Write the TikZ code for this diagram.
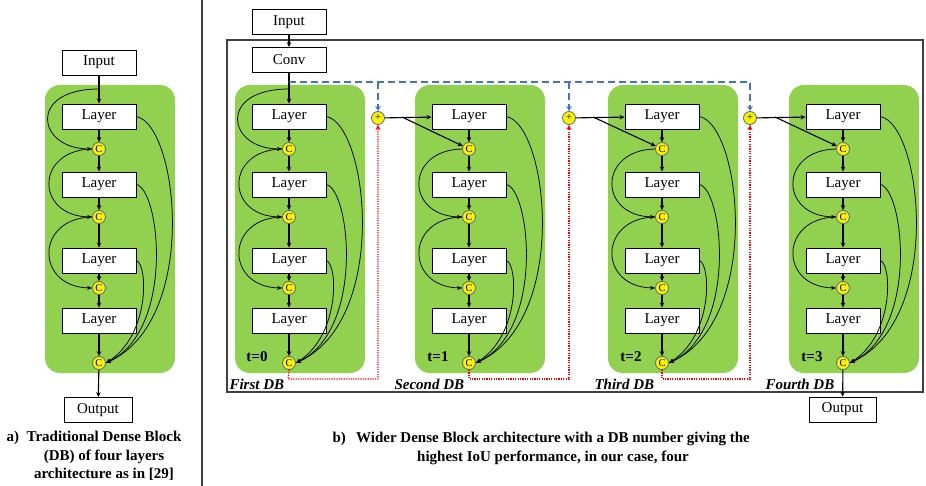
\documentclass[tikz,border=0pt]{standalone}
\usepackage{fontspec}
\setmainfont{Liberation Serif}
\usetikzlibrary{arrows.meta}
\definecolor{dbgreen}{HTML}{92D050}
\definecolor{cedge}{HTML}{4A6A8F}
\definecolor{dashblue}{HTML}{4472C4}
\definecolor{framegray}{HTML}{404040}
\tikzset{
  boxnode/.style={draw, fill=white, line width=0.9pt, minimum width=74pt, minimum height=25pt, inner sep=0pt, font=\fontsize{15}{16}\selectfont},
  cnode/.style={circle, draw=cedge, fill=yellow, line width=0.8pt, minimum size=13pt, inner sep=0pt, font=\fontsize{10.5}{10.5}\selectfont},
  arr/.style={line width=1.1pt, -{Stealth[length=5pt,width=4.5pt]}},
  curv/.style={line width=0.75pt, -{Stealth[length=5pt,width=4pt]}},
  bluedash/.style={draw=dashblue, line width=1.5pt, dash pattern=on 7pt off 4pt, -{Stealth[length=5pt,width=5.5pt,open]}},
  reddot/.style={draw=red, line width=1.2pt, dash pattern=on 1.2pt off 1.2pt, -{Stealth[length=5pt,width=5pt,open]}},
  tlabel/.style={font=\fontsize{15}{15}\selectfont\bfseries},
  dblabel/.style={font=\fontsize{15}{15}\selectfont\bfseries\itshape, anchor=west},
  caption/.style={font=\fontsize{15}{18.5}\selectfont\bfseries, align=center}
}
\newcommand{\DBlock}[2]{%
  \fill[dbgreen, rounded corners=15pt] (#2-54,85) rectangle (#2+76,373);
  \node[boxnode] (#1L1) at (#2,116.5) {Layer};
  \node[boxnode] (#1L2) at (#2,184.5) {Layer};
  \node[boxnode] (#1L3) at (#2,260.5) {Layer};
  \node[boxnode] (#1L4) at (#2,320.5) {Layer};
  \node[cnode] (#1C1) at (#2,149) {C};
  \node[cnode] (#1C2) at (#2,217) {C};
  \node[cnode] (#1C3) at (#2,288) {C};
  \node[cnode] (#1C4) at (#2,363) {C};
  \draw[arr] (#1L1) -- (#1C1);
  \draw[arr] (#1C1) -- (#1L2);
  \draw[arr] (#1L2) -- (#1C2);
  \draw[arr] (#1C2) -- (#1L3);
  \draw[arr] (#1L3) -- (#1C3);
  \draw[arr] (#1C3) -- (#1L4);
  \draw[arr] (#1L4) -- (#1C4);
  \draw[curv] (#1C1.west) .. controls (#2-64,150) and (#2-64,216) .. (#1C2.west);
  \draw[curv] (#1C2.west) .. controls (#2-64,218) and (#2-64,287) .. (#1C3.west);
  \draw[curv] (#1L1.east) .. controls (#2+79,125) and (#2+101,320) .. (#1C4.east);
  \draw[curv] (#1L2.east) .. controls (#2+61,190) and (#2+76,330) .. (#1C4.east);
  \draw[curv] (#1L3.east) .. controls (#2+49,265) and (#2+51,335) .. (#1C4.east);
}
\begin{document}
\begin{tikzpicture}[x=1pt,y=-1pt]
\useasboundingbox (0,0) rectangle (926,486);
\fill[white] (0,0) rectangle (926,486);

% divider
\draw[framegray, line width=1.5pt] (202,0) -- (202,486);

% ---------------- panel a ----------------
\node[boxnode] (inA) at (99,62.5) {Input};
\DBlock{a}{99}
\coordinate (atop) at (99,89);
\draw[arr] (inA) -- (aL1);
\draw[curv] (atop) .. controls (27,89) and (37,149) .. (aC1.west);
\node[boxnode, minimum width=68pt] (outA) at (98,410) {Output};
\draw[arr] (aC4) -- (outA);
\node[caption, anchor=west] (capAlab) at (3,438) {a)};
\node[caption, anchor=north] (capA) at (104,428) {Traditional Dense Block\\(DB) of four layers\\architecture as in [29]};

% ---------------- panel b ----------------
\draw[framegray, line width=1.3pt] (227,40) rectangle (923,392);
\node[boxnode] (inB) at (289,22) {Input};
\node[boxnode] (conv) at (289,60) {Conv};
\draw[arr] (inB) -- (conv);

\DBlock{b}{289}
\DBlock{c}{469}
\DBlock{d}{662}
\DBlock{e}{843}

\coordinate (btop) at (289,89);
\coordinate (bj) at (289,82);
\draw[arr] (conv) -- (bL1);
\draw[curv] (btop) .. controls (217,89) and (227,149) .. (bC1.west);

% plus nodes
\node[cnode] (p1) at (378,118) {+};
\node[cnode] (p2) at (569,118) {+};
\node[cnode] (p3) at (750,118) {+};

% blue dashed skip from conv
\draw[bluedash] (bj) -- (p3 |- bj) -- (p3.north);
\draw[bluedash] (p1 |- bj) -- (p1.north);
\draw[bluedash] (p2 |- bj) -- (p2.north);

% red dotted from block outputs
\draw[reddot] (bC4.south) -- (288,379) -| (p1.south);
\draw[reddot] (cC4.south) -- (469,379) -| (p2.south);
\draw[reddot] (dC4.south) -- (662,379) -| (p3.south);

% plus to next block
\coordinate (s1) at (402,117);
\coordinate (s2) at (593,117);
\coordinate (s3) at (775,117);
\draw[arr] (p1) -- (cL1);
\draw[arr] (s1) -- (cC1);
\draw[arr] (p2) -- (dL1);
\draw[arr] (s2) -- (dC1);
\draw[arr] (p3) -- (eL1);
\draw[arr] (s3) -- (eC1);

% output
\node[boxnode, minimum width=67pt] (outB) at (842.5,409.5) {Output};
\draw[arr] (eC4) -- (outB);

% labels
\node[tlabel] (t0) at (257,357) {t=0};
\node[tlabel] (t1) at (438,357) {t=1};
\node[tlabel] (t2) at (631,357) {t=2};
\node[tlabel] (t3) at (812,357) {t=3};
\node[dblabel] (db1) at (226,384) {First DB};
\node[dblabel] (db2) at (391,384) {Second DB};
\node[dblabel] (db3) at (591,384) {Third DB};
\node[dblabel] (db4) at (762,384) {Fourth DB};

\node[caption, anchor=west] (capBlab) at (329,439) {b)};
\node[caption, anchor=north] (capB) at (553,429) {Wider Dense Block architecture with a DB number giving the\\highest IoU performance, in our case, four};
\end{tikzpicture}
\end{document}
